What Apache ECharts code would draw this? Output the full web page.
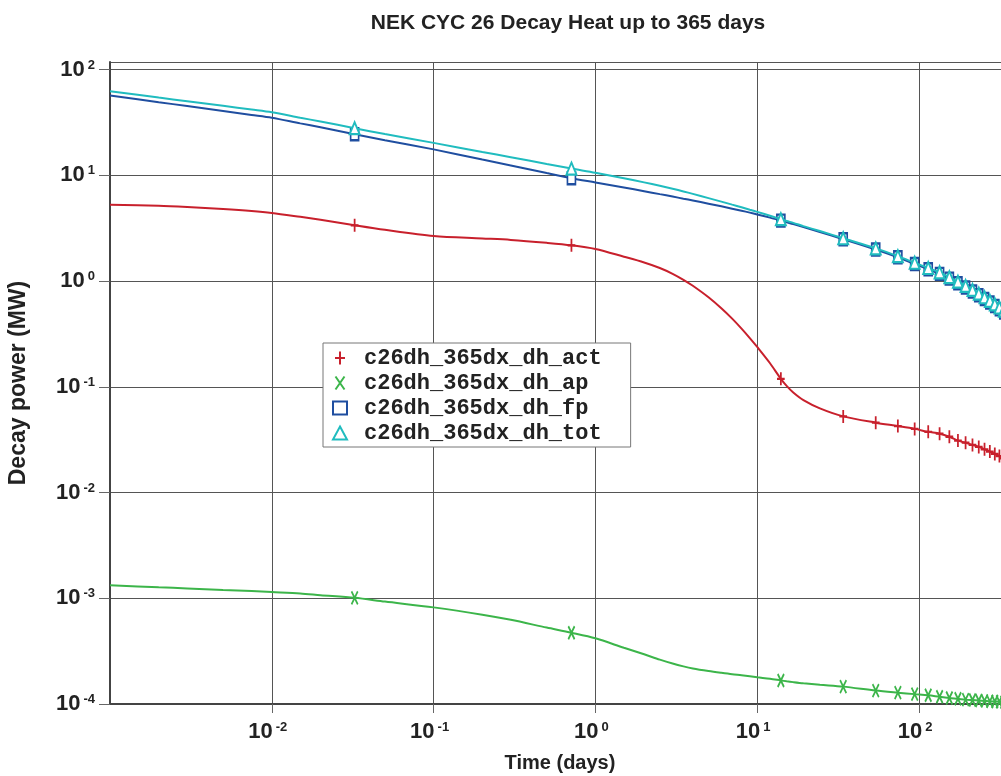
<!DOCTYPE html>
<html>
<head>
<meta charset="utf-8">
<script src="https://cdn.jsdelivr.net/npm/echarts@6/dist/echarts.min.js"></script>
<style>
html,body{margin:0;padding:0;background:#fff;}
#chart{width:1001px;height:776px;}
</style>
</head>
<body>
<div id="chart"></div>
<script>
// ---- data (time in days, decay power in MW) ----
const timeDays = [0.001, 0.002, 0.003, 0.005, 0.0075, 0.01, 0.015, 0.02, 0.0325, 0.05, 0.1, 0.2, 0.3, 0.5, 0.711,
  1, 1.5, 2, 2.5, 3, 3.5, 4, 5, 6, 7, 8, 9, 10, 12, 14, 15.2, 16.7, 19.3, 24.4, 34, 54, 74, 94, 114, 134, 154,
  174, 194, 214, 234, 254, 274, 294, 314, 334, 354, 365];

const actMW = [5.28, 5.15, 5.01, 4.80, 4.60, 4.41, 4.05, 3.80, 3.37, 3.05, 2.67, 2.53, 2.45, 2.30, 2.18,
  2.01, 1.70, 1.50, 1.33, 1.172, 1.028, 0.902, 0.702, 0.553, 0.441, 0.355, 0.289, 0.238, 0.167, 0.119, 0.102, 0.0883, 0.0748, 0.0625, 0.0525, 0.0458, 0.0425, 0.0400, 0.0375, 0.0360, 0.0337,
  0.0310, 0.0296, 0.0282, 0.0270, 0.0256, 0.0244, 0.0232, 0.0221, 0.0211, 0.0202, 0.0197];

const apMW = [1.33e-3, 1.27e-3, 1.24e-3, 1.20e-3, 1.17e-3, 1.145e-3, 1.11e-3, 1.07e-3, 1.01e-3, 9.3e-4, 8.2e-4, 7.0e-4, 6.25e-4, 5.28e-4, 4.72e-4,
  4.18e-4, 3.40e-4, 2.95e-4, 2.63e-4, 2.415e-4, 2.27e-4, 2.17e-4, 2.05e-4, 1.97e-4, 1.91e-4, 1.87e-4, 1.83e-4, 1.79e-4, 1.73e-4, 1.67e-4, 1.64e-4, 1.61e-4, 1.57e-4, 1.52e-4, 1.46e-4, 1.34e-4, 1.28e-4, 1.24e-4, 1.21e-4, 1.17e-4, 1.14e-4,
  1.12e-4, 1.10e-4, 1.09e-4, 1.08e-4, 1.07e-4, 1.06e-4, 1.055e-4, 1.05e-4, 1.04e-4, 1.03e-4, 1.025e-4];

const fpMW = [57.0, 49.2, 45.2, 40.6, 37.3, 35.1, 31.0, 28.5, 24.5, 21.5, 17.6, 14.1, 12.4, 10.5, 9.4,
  8.57, 7.67, 7.08, 6.64, 6.30, 6.01, 5.78, 5.39, 5.09, 4.84, 4.63, 4.44, 4.27, 3.98, 3.73, 3.60, 3.46, 3.24, 2.91, 2.49, 1.99, 1.68, 1.45, 1.295, 1.17, 1.055,
  0.955, 0.870, 0.797, 0.734, 0.677, 0.626, 0.580, 0.540, 0.504, 0.472, 0.456];

const totMW = [62.4, 54.35, 50.2, 45.4, 41.9, 39.5, 35.05, 32.3, 27.9, 24.55, 20.27, 16.63, 14.85, 12.8, 11.58,
  10.58, 9.37, 8.58, 7.97, 7.47, 7.04, 6.68, 6.09, 5.64, 5.28, 4.99, 4.73, 4.51, 4.15, 3.85, 3.70, 3.55, 3.31, 2.97, 2.54, 2.04, 1.72, 1.49, 1.33, 1.21, 1.089,
  0.986, 0.900, 0.825, 0.761, 0.703, 0.650, 0.603, 0.562, 0.525, 0.492, 0.476];

const markerDays = [0.0325, 0.711, 14, 34, 54, 74, 94, 114, 134, 154, 174, 194, 214, 234, 254, 274, 294, 314, 334, 354];

const seriesNames = ['c26dh_365dx_dh_act', 'c26dh_365dx_dh_ap', 'c26dh_365dx_dh_fp', 'c26dh_365dx_dh_tot'];
const seriesColors = ['#c8202c', '#3cb54a', '#1f4ea0', '#20bcbf'];
const seriesSymbols = [
  'path://M5,0L5,13M0,6.5L10,6.5',
  'path://M0,0L9,13M9,0L0,13',
  'emptyRect',
  'emptyTriangle'
];
const seriesSymbolSizes = [[10, 13], [9, 13], [8, 12], [10, 12]];
const seriesValues = [actMW, apMW, fpMW, totMW];

const titleText = 'NEK CYC 26 Decay Heat up to 365 days';
const xName = 'Time (days)';
const yName = 'Decay power (MW)';

// ---- chart ----
const labelFont = "'Liberation Sans Narrow','Arial Narrow','Liberation Sans',Arial,sans-serif";
const chart = echarts.init(document.getElementById('chart'), null, {renderer: 'canvas'});

function powLabel(v) {
  const e = Math.log10(v);
  const r = Math.round(e);
  if (Math.abs(e - r) > 1e-6) return '';
  return '{b|10}{s|' + r + '}';
}

function buildData(vals, sym, size) {
  return timeDays.map((t, i) => markerDays.indexOf(t) >= 0
    ? {value: [t, vals[i]], symbol: sym, symbolSize: size}
    : {value: [t, vals[i]], symbol: 'none'});
}

const series = seriesNames.map((name, k) => ({
  name: name,
  type: 'line',
  smooth: 0.3,
  showSymbol: true,
  symbolKeepAspect: true,
  data: buildData(seriesValues[k], seriesSymbols[k], seriesSymbolSizes[k]),
  lineStyle: {color: seriesColors[k], width: 2},
  itemStyle: {color: seriesColors[k], borderColor: seriesColors[k], borderWidth: 2},
  emphasis: {disabled: true},
  z: 2 + k
}));

const option = {
  animation: false,
  backgroundColor: '#ffffff',
  title: {
    text: titleText,
    left: 563,
    top: 8,
    textAlign: 'center',
    textStyle: {fontFamily: "'Liberation Sans',Arial,sans-serif", fontWeight: 'bold', fontSize: 21, color: '#222'}
  },
  legend: {
    orient: 'vertical',
    left: 323,
    top: 343,
    padding: [4, 29, 3, 9],
    itemGap: 3,
    itemWidth: 14,
    itemHeight: 13,
    selectedMode: false,
    backgroundColor: '#ffffff',
    borderColor: '#777',
    borderWidth: 1,
    borderRadius: 0,
    textStyle: {fontFamily: "'Liberation Mono','Courier New',monospace", fontWeight: 'bold', fontSize: 22, lineHeight: 22, color: '#222', padding: [0, 0, 0, 12]},
    data: seriesNames.map((name, k) => ({
      name: name,
      icon: seriesSymbols[k],
      itemStyle: {color: seriesColors[k], borderColor: seriesColors[k], borderWidth: 2}
    }))
  },
  grid: {left: 110, top: 62, bottom: 72, right: -9, containLabel: false, outerBoundsMode: 'none'},
  xAxis: {
    type: 'log',
    logBase: 10,
    min: 0.001,
    max: 365,
    name: xName,
    nameLocation: 'middle',
    nameGap: 49,
    nameTextStyle: {fontFamily: "'Liberation Sans',Arial,sans-serif", fontWeight: 'bold', fontSize: 20, color: '#222'},
    axisLine: {show: true, lineStyle: {color: '#444', width: 2}},
    axisTick: {show: true, length: 9, lineStyle: {color: '#666', width: 1}},
    splitLine: {show: true, lineStyle: {color: '#555', width: 1}},
    minorTick: {show: false},
    axisLabel: {
      margin: 17,
      showMinLabel: false,
      showMaxLabel: false,
      formatter: powLabel,
      rich: {
        b: {fontFamily: labelFont, fontWeight: 'bold', fontSize: 22, lineHeight: 22, color: '#222'},
        s: {fontFamily: labelFont, fontWeight: 'bold', fontSize: 13, lineHeight: 13, verticalAlign: 'top', color: '#222', padding: [0, 8, 0, 3]}
      }
    }
  },
  yAxis: {
    type: 'log',
    logBase: 10,
    min: 0.0001,
    max: 118,
    name: yName,
    nameLocation: 'middle',
    nameGap: 80,
    nameTextStyle: {fontFamily: "'Liberation Sans',Arial,sans-serif", fontWeight: 'bold', fontSize: 23, color: '#222'},
    axisLine: {show: true, lineStyle: {color: '#444', width: 2}},
    axisTick: {show: true, length: 11, lineStyle: {color: '#666', width: 1}},
    splitLine: {show: true, lineStyle: {color: '#555', width: 1}},
    minorTick: {show: false},
    axisLabel: {
      margin: 15,
      showMaxLabel: false,
      formatter: powLabel,
      rich: {
        b: {fontFamily: labelFont, fontWeight: 'bold', fontSize: 22, lineHeight: 22, color: '#222'},
        s: {fontFamily: labelFont, fontWeight: 'bold', fontSize: 13, lineHeight: 13, verticalAlign: 'top', color: '#222', padding: [0, 0, 0, 3]}
      }
    }
  },
  series: series
};
chart.setOption(option);
</script>
</body>
</html>
